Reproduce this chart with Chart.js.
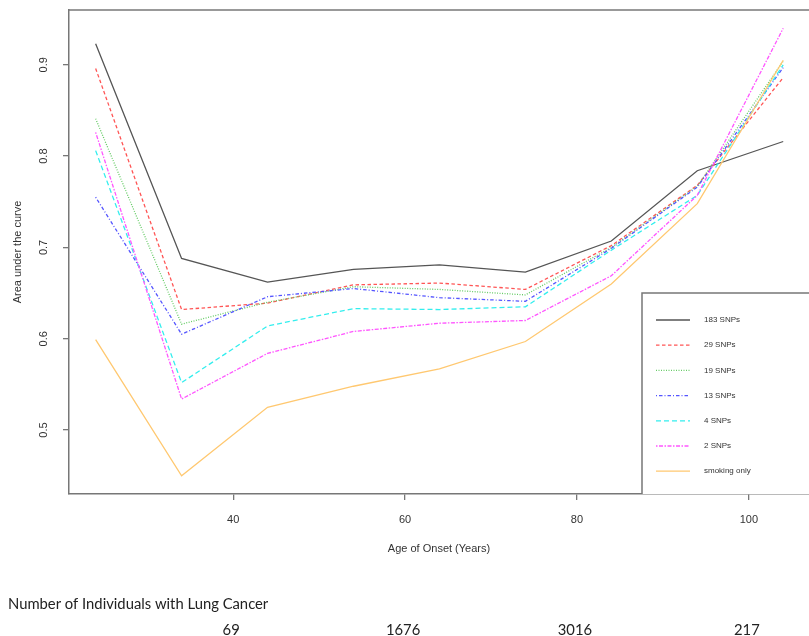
<!DOCTYPE html>
<html>
<head>
<meta charset="utf-8">
<script src="https://cdn.jsdelivr.net/npm/chart.js@4"></script>
<style>
  html, body { margin: 0; padding: 0; background: #fff; overflow: hidden; }
  #wrap { position: relative; width: 809px; height: 636px; }
</style>
</head>
<body>
<div id="wrap"><canvas id="aucChart" width="809" height="636"></canvas></div>

<script>
// =========================
// DATA
// =========================
const ages = [24, 34, 44, 54, 64, 74, 84, 94, 104];

const snp183  = [0.923, 0.688, 0.662, 0.676, 0.681, 0.673, 0.707, 0.784, 0.816];
const snp29   = [0.896, 0.632, 0.639, 0.659, 0.661, 0.654, 0.702, 0.768, 0.886];
const snp19   = [0.841, 0.616, 0.640, 0.657, 0.654, 0.648, 0.700, 0.767, 0.904];
const snp13   = [0.755, 0.605, 0.646, 0.655, 0.645, 0.641, 0.699, 0.766, 0.897];
const snp4    = [0.806, 0.552, 0.614, 0.633, 0.632, 0.635, 0.697, 0.757, 0.900];
const snp2    = [0.826, 0.534, 0.584, 0.608, 0.617, 0.620, 0.669, 0.757, 0.940];
const smoking = [0.599, 0.450, 0.525, 0.548, 0.567, 0.597, 0.660, 0.748, 0.905];

const seriesLabels = ['183 SNPs', '29 SNPs', '19 SNPs', '13 SNPs', '4 SNPs', '2 SNPs', 'smoking only'];

const xTicks = [40, 60, 80, 100];
const yTicks = [0.5, 0.6, 0.7, 0.8, 0.9];

// individuals with lung cancer, shown under the x ticks
const countAges = [40, 60, 80, 100];
const counts = [69, 1676, 3016, 217];


// =========================
// STYLES
// =========================
const seriesValues = [snp183, snp29, snp19, snp13, snp4, snp2, smoking];
const colors = ['#555555', '#ff5555', '#66cc66', '#5555ff', '#33eeee', '#ff55ff', '#ffc870'];
const dashes = [[], [3.5, 2.5], [1, 1.5], [1, 2, 3.5, 2], [5, 3], [1.5, 1.5, 4, 1.5], []];

const datasets = seriesValues.map((vals, i) => ({
  label: seriesLabels[i],
  data: vals.map((v, j) => ({ x: ages[j], y: v })),
  borderColor: colors[i],
  borderDash: dashes[i],
  borderWidth: 1.3,
  pointRadius: 0,
  tension: 0,
  fill: false,
  order: seriesValues.length - i
}));

const frameColor = '#777777';
const textColor = '#333333';

// no automatic label overhang padding, so the frame sits where R put it
function noOverhang(scale) {
  scale.paddingTop = 0;
  scale.paddingBottom = 0;
  scale.paddingLeft = 0;
  scale.paddingRight = 0;
}


// =========================
// EXTRA DRAWING: top frame, legend box, counts
// =========================
const extras = {
  id: 'extras',
  afterDatasetsDraw(chart) {
    const ctx = chart.ctx;
    const area = chart.chartArea;
    const xs = chart.scales.x;

    ctx.save();
    // top frame line
    ctx.strokeStyle = frameColor;
    ctx.lineWidth = 1.5;
    ctx.beginPath();
    ctx.moveTo(area.left, area.top);
    ctx.lineTo(area.right + 2, area.top);
    ctx.stroke();

    // legend box
    const bx = 642, by = 293;
    ctx.fillStyle = '#fff';
    ctx.fillRect(bx, by, area.right - bx + 2, area.bottom - by);
    ctx.beginPath();
    ctx.moveTo(area.right + 2, by);
    ctx.lineTo(bx, by);
    ctx.lineTo(bx, area.bottom);
    ctx.stroke();

    ctx.font = '8px "Liberation Sans", Arial, sans-serif';
    ctx.textBaseline = 'middle';
    ctx.textAlign = 'left';
    chart.data.datasets.forEach((ds, i) => {
      const y = 320 + i * 25.2;
      ctx.strokeStyle = ds.borderColor;
      ctx.lineWidth = 1.3;
      ctx.setLineDash(ds.borderDash);
      ctx.beginPath();
      ctx.moveTo(656, y);
      ctx.lineTo(690, y);
      ctx.stroke();
      ctx.setLineDash([]);
      ctx.fillStyle = textColor;
      ctx.fillText(ds.label, 704, y);
    });

    // number of individuals
    ctx.fillStyle = '#222';
    ctx.font = '14.8px Lato, "Open Sans", sans-serif';
    ctx.textAlign = 'left';
    ctx.fillText('Number of Individuals with Lung Cancer', 8, 604);
    ctx.textAlign = 'center';
    counts.forEach((c, i) => {
      ctx.fillText(String(c), xs.getPixelForValue(countAges[i]) - 2, 630);
    });
    ctx.restore();
  }
};


// =========================
// DISPLAY CHART.JS
// =========================
const ctx = document.getElementById('aucChart').getContext('2d');

new Chart(ctx, {
  type: 'line',
  data: { datasets: datasets },
  options: {
    responsive: false,
    animation: false,
    layout: { padding: { top: 10, right: 0, bottom: 0, left: 0 } },
    plugins: {
      legend: { display: false },
      tooltip: { enabled: false }
    },
    scales: {
      x: {
        type: 'linear',
        min: 20.9,
        max: 107,
        afterBuildTicks: (scale) => { scale.ticks = xTicks.map(v => ({ value: v })); },
        afterFit: (scale) => { scale.height = 636 - 494; noOverhang(scale); },
        grid: { drawOnChartArea: false, drawTicks: true, tickLength: 6, color: frameColor, lineWidth: 1.3 },
        border: { display: true, color: frameColor, width: 1.5 },
        ticks: {
          padding: 13,
          color: textColor,
          maxRotation: 0,
          font: { family: '"Liberation Sans", Arial, sans-serif', size: 11 }
        },
        title: {
          display: true,
          text: 'Age of Onset (Years)',
          color: textColor,
          padding: { top: 0, bottom: 80 },
          font: { family: '"Liberation Sans", Arial, sans-serif', size: 11 }
        }
      },
      y: {
        type: 'linear',
        min: 0.43,
        max: 0.96,
        afterBuildTicks: (scale) => { scale.ticks = yTicks.map(v => ({ value: v })); },
        afterFit: (scale) => { scale.width = 69; noOverhang(scale); },
        grid: { drawOnChartArea: false, drawTicks: true, tickLength: 6, color: frameColor, lineWidth: 1.3 },
        border: { display: true, color: frameColor, width: 1.5 },
        ticks: {
          minRotation: 90,
          maxRotation: 90,
          crossAlign: 'center',
          padding: 11,
          color: textColor,
          font: { family: '"Liberation Sans", Arial, sans-serif', size: 11 },
          callback: (v) => v.toFixed(1)
        },
        title: {
          display: true,
          text: 'Area under the curve',
          color: textColor,
          padding: { top: 11, bottom: 0 },
          font: { family: '"Liberation Sans", Arial, sans-serif', size: 11 }
        }
      }
    }
  },
  plugins: [extras]
});
</script>
</body>
</html>
